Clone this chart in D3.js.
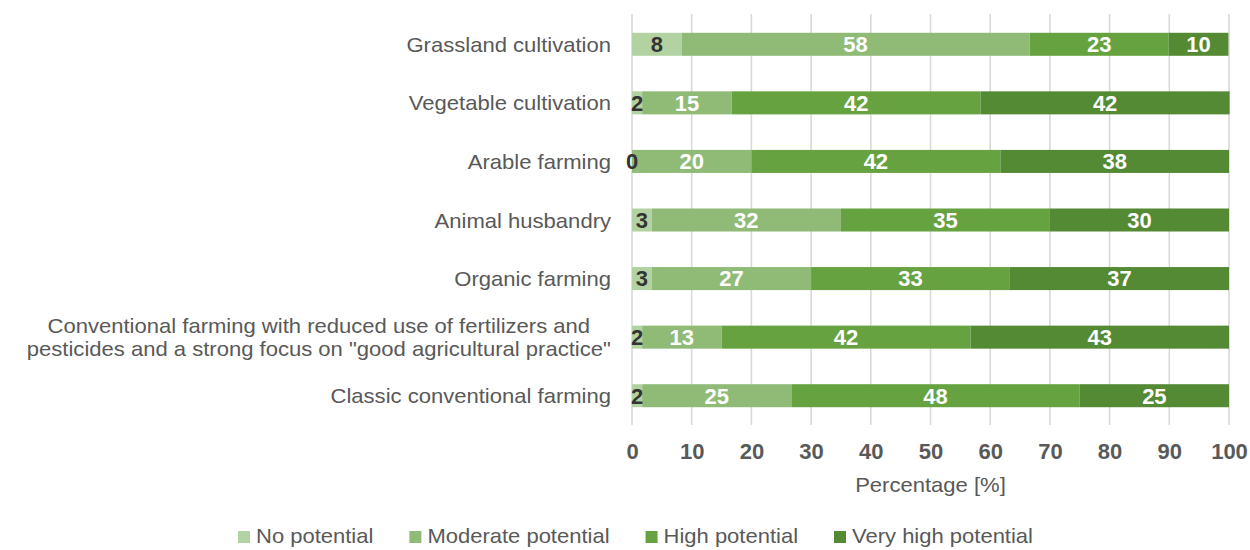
<!DOCTYPE html>
<html><head><meta charset="utf-8">
<script src="https://cdn.jsdelivr.net/npm/d3@7"></script>
<style>
body{margin:0;background:#fff}
svg text{font-family:"Liberation Sans",Arial,Helvetica,sans-serif}
</style>
</head><body>
<svg id="chart" width="1250" height="550"></svg>
<script>
// ---- data ----
const categories = [
  "Grassland cultivation",
  "Vegetable cultivation",
  "Arable farming",
  "Animal husbandry",
  "Organic farming",
  "Conventional farming with reduced use of fertilizers and|pesticides and a strong focus on \"good agricultural practice\"",
  "Classic conventional farming"
];
const seriesNames = ["No potential", "Moderate potential", "High potential", "Very high potential"];
const noPotential       = [8.3, 1.7, 0.0, 3.3, 3.3, 1.7, 1.7];
const moderatePotential = [58.3, 15.0, 20.0, 31.7, 26.7, 13.3, 25.0];
const highPotential     = [23.3, 41.7, 41.7, 35.0, 33.3, 41.7, 48.3];
const veryHighPotential = [10.0, 41.7, 38.3, 30.0, 36.7, 43.3, 25.0];
const xTicks = [0, 10, 20, 30, 40, 50, 60, 70, 80, 90, 100];
const axisTitle = "Percentage [%]";

// ---- styles ----
const colors = ["#b2d3a1", "#8fbb77", "#66a23f", "#548a34"];
const labelColors = ["#333333", "#ffffff", "#ffffff", "#ffffff"];
const textGray = "#595959";
const K = 1.05; // slight horizontal text stretch of the reference
const KL = 1.1;

const svg = d3.select("#chart");
const plot = {left: 632, right: 1229, top: 14, bottom: 425};

const rows = categories.map((c, i) => ({
  cat: c,
  "No potential": noPotential[i],
  "Moderate potential": moderatePotential[i],
  "High potential": highPotential[i],
  "Very high potential": veryHighPotential[i]
}));
const stacked = d3.stack().keys(seriesNames)(rows);

const x = d3.scaleLinear().domain([0, 100]).range([plot.left, plot.right]);
const y = d3.scaleBand().domain(categories).range([15, 425])
  .paddingInner(0.607).paddingOuter(0.3035);
const color = d3.scaleOrdinal().domain(seriesNames).range(colors);

// gridlines
svg.append("g").selectAll("line").data(xTicks).join("line")
  .attr("x1", d => x(d)).attr("x2", d => x(d))
  .attr("y1", plot.top).attr("y2", plot.bottom)
  .attr("stroke", "#d9d9d9").attr("stroke-width", 1.6);

// bars
const layers = svg.append("g").selectAll("g").data(stacked).join("g")
  .attr("fill", d => color(d.key));
layers.selectAll("rect").data(d => d).join("rect")
  .attr("x", d => x(d[0]))
  .attr("width", d => Math.max(0, x(d[1]) - x(d[0])))
  .attr("y", d => y(d.data.cat))
  .attr("height", y.bandwidth());

// bar labels
const lab = svg.append("g").selectAll("g").data(stacked).join("g")
  .attr("fill", (d, i) => labelColors[i]);
lab.selectAll("text").data(d => d).join("text")
  .attr("x", d => (x(d[0]) + x(d[1])) / 2)
  .attr("y", d => y(d.data.cat) + y.bandwidth() / 2)
  .attr("dy", "0.36em")
  .attr("text-anchor", "middle")
  .style("font-size", "22px").style("font-weight", "bold")
  .text(d => Math.round(d[1] - d[0]));

// category labels
const catG = svg.append("g");
categories.forEach(c => {
  const lines = c.split("|");
  const cy = y(c) + y.bandwidth() / 2;
  const lh = 23;
  const t = catG.append("text")
    .attr("fill", textGray).style("font-size", "21px");
  lines.forEach((ln, j) => {
    t.append("tspan").attr("x", 0)
      .attr("y", (j - (lines.length - 1) / 2) * lh)
      .attr("dy", "0.36em").text(ln);
  });
  if (lines.length === 1) {
    t.attr("text-anchor", "end")
     .attr("transform", `translate(611,${cy}) scale(${K},1)`);
  } else {
    t.attr("text-anchor", "middle");
    const w = d3.max(t.selectAll("tspan").nodes(), n => n.getComputedTextLength());
    t.attr("transform", `translate(${611 - w * K / 2},${cy}) scale(${K},1)`);
  }
});

// x axis
const axis = svg.append("g").attr("transform", `translate(0,${plot.bottom})`)
  .call(d3.axisBottom(x).tickValues(xTicks).tickSize(0).tickPadding(18).tickFormat(d3.format("d")));
axis.select(".domain").remove();
axis.selectAll("text").attr("fill", textGray)
  .style("font-size", "22px").style("font-weight", "bold")
  .style("font-family", "'Liberation Sans',Arial,sans-serif");

// axis title
svg.append("text")
  .attr("transform", `translate(${(plot.left + plot.right) / 2},492) scale(${K},1)`)
  .attr("text-anchor", "middle").attr("fill", textGray)
  .style("font-size", "21px").text(axisTitle);

// legend
const leg = svg.append("g");
let lx = 238;
seriesNames.forEach((s, i) => {
  leg.append("rect").attr("x", lx).attr("y", 531).attr("width", 12).attr("height", 12)
    .attr("fill", colors[i]);
  const t = leg.append("text")
    .attr("transform", `translate(${lx + 18},543) scale(${KL},1)`)
    .attr("fill", textGray).style("font-size", "20px").text(s);
  lx = lx + 18 + t.node().getComputedTextLength() * KL + 36;
});
</script>
</body></html>
